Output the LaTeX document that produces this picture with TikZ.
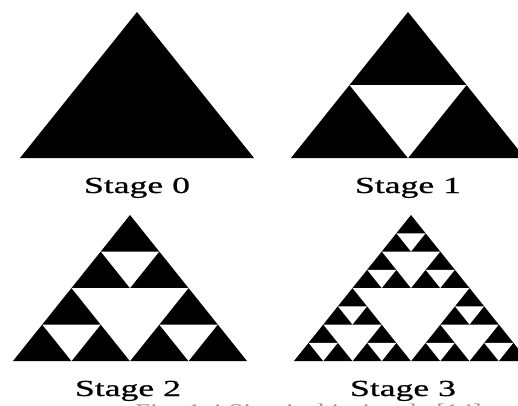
\documentclass[tikz,border=0pt]{standalone}
\usepackage{fontspec}
\usepackage{graphicx}
\setmainfont{Liberation Serif}
\newfontfamily\labfont[FakeBold=0.6]{Liberation Serif}
\newcommand\sierphole[4]{%
  \ifnum\numexpr#1\relax>0
    \fill[white] ({(#2)-(#4)/2},{(#3)+(#4)/2}) -- ({(#2)+(#4)/2},{(#3)+(#4)/2}) -- ({#2},{(#3)+(#4)}) -- cycle;
    \sierphole{#1-1}{#2}{#3}{(#4)/2}%
    \sierphole{#1-1}{(#2)-(#4)/2}{(#3)+(#4)/2}{(#4)/2}%
    \sierphole{#1-1}{(#2)+(#4)/2}{(#3)+(#4)/2}{(#4)/2}%
  \fi}
\newcommand\sierptri[3]{% #1 stage, #2 apex x, #3 apex y
  \begin{scope}[shift={(#2,#3)}, xscale=117, yscale=146]
    \fill[black] (0,0) -- (-1,1) -- (1,1) -- cycle;
    \sierphole{#1}{0}{0}{1}%
  \end{scope}}
\tikzset{
  stagelab/.style={inner sep=0pt, anchor=base, font=\labfont\fontsize{23}{23}\selectfont},
  captionlab/.style={inner sep=0pt, anchor=base west, text=black!40, font=\fontsize{21}{21}\selectfont}
}
\begin{document}
\begin{tikzpicture}[x=1pt, y=-1pt]
  \useasboundingbox (0,0) rectangle (518,405);
  \clip (0,0) rectangle (518,405);
  \fill[white] (0,0) rectangle (518,405);
  \sierptri{0}{137}{12}
  \sierptri{1}{408}{12}
  \sierptri{2}{130}{215}
  \sierptri{3}{411}{215}
  \node[captionlab] (cap) at (135,418) {\scalebox{1.3}[1]{Fig. 1.4 Sierpinski triangle [14]}};
  \node[stagelab] (s0) at (137,193) {\scalebox{1.55}[1]{Stage 0}};
  \node[stagelab] (s1) at (408,193) {\scalebox{1.55}[1]{Stage 1}};
  \node[stagelab] (s2) at (128,396) {\scalebox{1.55}[1]{Stage 2}};
  \node[stagelab] (s3) at (403,396) {\scalebox{1.55}[1]{Stage 3}};
\end{tikzpicture}
\end{document}
